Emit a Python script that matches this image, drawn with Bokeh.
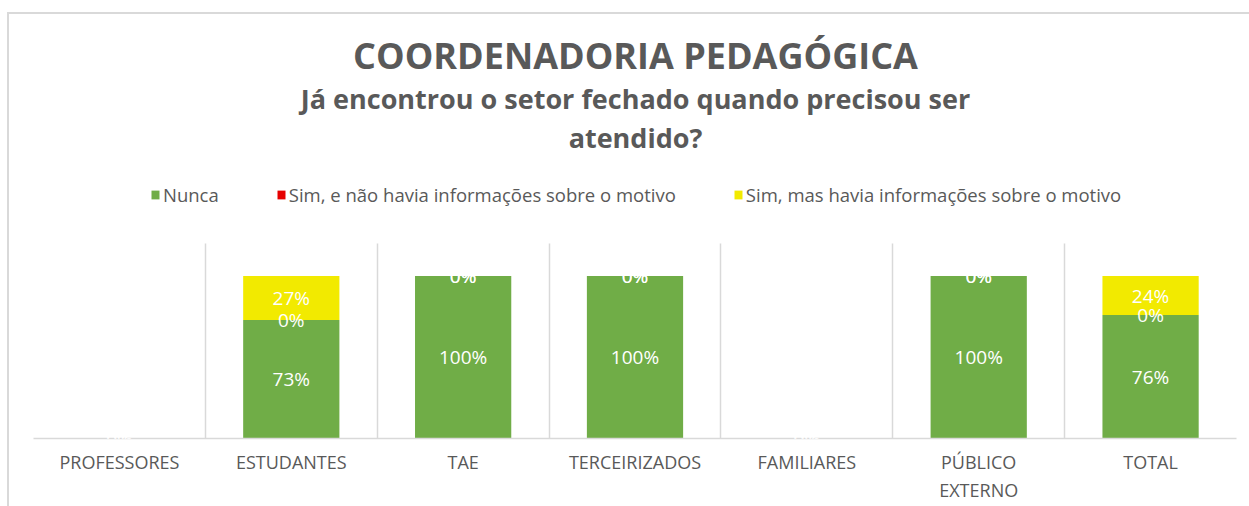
from bokeh.plotting import figure
from bokeh.models import (Range1d, FixedTicker, ColumnDataSource, Legend,
                          LegendItem, LabelSet, Label, Grid)
from bokeh.core.properties import value
from bokeh.embed import file_html
from bokeh.resources import INLINE

# ---- data ----
categories = ["PROFESSORES", "ESTUDANTES", "TAE", "TERCEIRIZADOS",
              "FAMILIARES", "PÚBLICO\nEXTERNO", "TOTAL"]
series_names = ["Nunca",
                "Sim, e não havia informações sobre o motivo",
                "Sim, mas havia informações sobre o motivo"]
nunca = [0.00, 0.73, 1.00, 1.00, 0.00, 1.00, 0.76]
sim_sem_info = [0.00, 0.00, 0.00, 0.00, 0.00, 0.00, 0.00]
sim_com_info = [0.00, 0.27, 0.00, 0.00, 0.00, 0.00, 0.24]
colors = ["#70ad47", "#e60000", "#f2ea00"]

title_text = "COORDENADORIA PEDAGÓGICA"
subtitle_1 = "Já encontrou o setor fechado quando precisou ser"
subtitle_2 = "atendido?"

GRAY = "#595959"
LINE = "#d9d9d9"
FONT = "Open Sans"

n = len(categories)
xs = [i + 0.5 for i in range(n)]
series = [nunca, sim_sem_info, sim_com_info]
keys = ["s0", "s1", "s2"]

data = {"x": xs}
for k, s in zip(keys, series):
    data[k] = s
src = ColumnDataSource(data)

# ---- layout (pixels) ----
W, H = 1249, 506
BL, BR, BB = 33, 13, 68          # frame margins
PLOT_TOP = 243                   # pixel row where the value axis ends
YMAX = 1.2                       # value-axis maximum (120 %)
frame_bottom = H - BB
px_per_unit = (frame_bottom - PLOT_TOP) / YMAX
YEND = YMAX + PLOT_TOP / px_per_unit   # headroom for titles and legend

p = figure(width=W, height=H, output_backend="svg", toolbar_location=None,
           x_range=Range1d(0, n), y_range=Range1d(0, YEND),
           min_border_left=BL, min_border_right=BR, min_border_top=0,
           min_border_bottom=BB)
p.outline_line_color = None
p.background_fill_alpha = 0
p.border_fill_alpha = 0
# outer chart border (top and left edges visible) + white page behind
p.styles = {
    "background": ("linear-gradient(#d9d9d9,#d9d9d9) 7px 12px / 100% 2px no-repeat, "
                   "linear-gradient(#d9d9d9,#d9d9d9) 7px 12px / 2px 100% no-repeat, white"),
}

renderers = p.vbar_stack(keys, x="x", width=0.56, source=src,
                         color=colors, line_color=None)

# data labels
lx, ly, lt = [], [], []
for i in range(n):
    base = 0.0
    for s in series:
        v = s[i]
        lx.append(xs[i])
        ly.append(base + v / 2)
        lt.append(f"{round(v * 100)}%")
        base += v
lab_src = ColumnDataSource(dict(x=lx, y=ly, t=lt))
p.add_layout(LabelSet(x="x", y="y", text="t", source=lab_src,
                      text_color="white", text_font=value(FONT),
                      text_font_size="19px",
                      text_align="center", text_baseline="middle"))

# axes & grid
p.yaxis.visible = False
p.ygrid.visible = False
if "cross_bounds" in Grid.properties():
    p.xgrid.ticker = FixedTicker(ticks=list(range(n + 1)))
    p.xgrid.cross_bounds = (0, YMAX)
    p.xgrid.grid_line_color = LINE
    p.xgrid.grid_line_width = 1.5
else:
    p.xgrid.visible = False
    p.segment(x0=list(range(n + 1)), x1=list(range(n + 1)),
              y0=[0] * (n + 1), y1=[YMAX] * (n + 1),
              line_color=LINE, line_width=1.5, level="underlay")
ax = p.xaxis[0]
ax.ticker = FixedTicker(ticks=xs)
ax.major_label_overrides = {x: c for x, c in zip(xs, categories)}
ax.major_tick_line_color = None
ax.minor_tick_line_color = None
ax.major_tick_out = 0
ax.major_tick_in = 0
ax.minor_tick_out = 0
ax.axis_line_color = LINE
ax.axis_line_width = 1.5
ax.major_label_text_font = FONT
ax.major_label_text_font_size = "18px"
ax.major_label_text_color = GRAY
ax.major_label_standoff = 11

# frame-relative screen coordinates (origin = frame bottom-left, y up)
def fx(px):
    return px - BL
def fy(py):
    return frame_bottom - py

cx = fx(635)
for txt, base_y, size in [(title_text, 55, 36), (subtitle_1, 98, 27),
                          (subtitle_2, 137, 27)]:
    p.add_layout(Label(x=cx, y=fy(base_y), x_units="screen", y_units="screen",
                       text=txt, text_font=FONT, text_font_style="bold",
                       text_font_size=f"{size}px", text_color=GRAY,
                       text_align="center", text_baseline="alphabetic"))

legend = Legend(items=[LegendItem(label=nm, renderers=[r])
                       for nm, r in zip(series_names, renderers)],
                orientation="horizontal", location=(fx(150), fy(207)),
                glyph_width=10, glyph_height=11, label_standoff=3, spacing=57,
                padding=0, margin=0, border_line_color=None,
                background_fill_alpha=0,
                label_text_font=FONT, label_text_font_size="18.5px",
                label_text_color=GRAY)
p.add_layout(legend, "center")

open("out.html", "w").write(file_html(p, INLINE))
